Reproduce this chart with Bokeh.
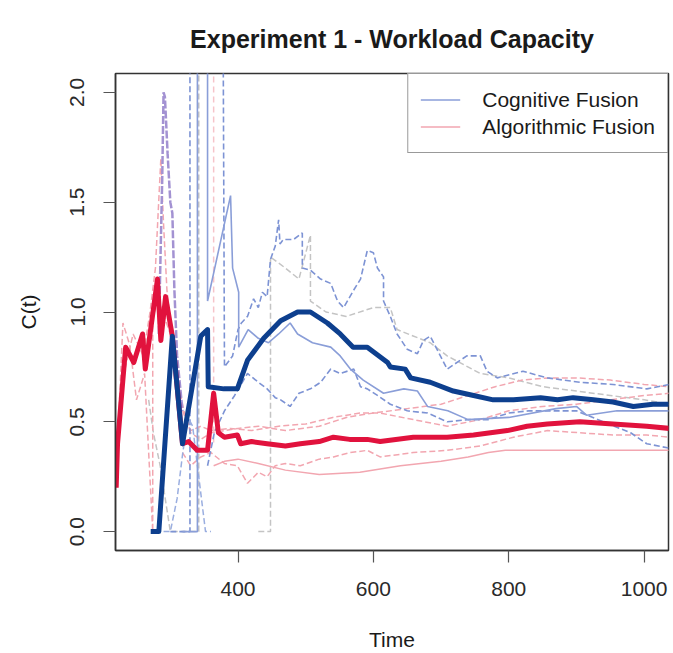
from bokeh.plotting import figure
from bokeh.models import Legend, LegendItem, FixedTicker, Range1d, PrintfTickFormatter
from bokeh.embed import file_html
from bokeh.resources import INLINE

# ---------------- data ----------------
x_ticks = [400, 600, 800, 1000]
y_ticks = [0.0, 0.5, 1.0, 1.5, 2.0]

# group means
cog_mean_t = [271, 283, 303, 318, 345, 355, 356, 379, 399, 414, 438, 463, 488, 507, 532, 551,
              570, 591, 621, 625, 647, 655, 684, 718, 748, 777, 807, 847, 872, 895, 925, 954,
              984, 1013, 1037]
cog_mean_c = [0.0, 0.0, 0.89, 0.40, 0.89, 0.92, 0.66, 0.65, 0.65, 0.78, 0.88, 0.96, 1.00, 1.00,
              0.95, 0.90, 0.84, 0.84, 0.77, 0.75, 0.74, 0.70, 0.68, 0.64, 0.62, 0.60, 0.60, 0.61,
              0.60, 0.61, 0.60, 0.59, 0.57, 0.58, 0.58]

alg_mean_t = [220, 222, 234, 246, 259, 263, 281, 286, 293, 303, 318, 327, 340, 355, 364, 371,
              380, 399, 404, 420, 443, 470, 492, 520, 541, 565, 591, 610, 659, 709, 748, 773,
              798, 827, 857, 905, 954, 1004, 1037]
alg_mean_c = [0.20, 0.40, 0.84, 0.77, 0.90, 0.74, 1.15, 0.87, 1.07, 0.89, 0.40, 0.41, 0.37, 0.37,
              0.63, 0.45, 0.43, 0.44, 0.40, 0.41, 0.40, 0.39, 0.40, 0.41, 0.43, 0.42, 0.42, 0.41,
              0.43, 0.43, 0.44, 0.45, 0.46, 0.48, 0.49, 0.50, 0.49, 0.48, 0.47]

# individual Cognitive Fusion curves
cog_1_t = [318, 340, 340, 355, 355, 389, 392, 401, 401, 415, 430, 445, 460, 477, 488, 510, 537,
           551, 566, 585, 615, 645, 665, 680, 710, 740, 800, 870, 900, 915, 960, 1037]
cog_1_c = [0.0, 0.0, 2.3, 2.3, 1.05, 1.53, 1.20, 1.09, 0.84, 0.92, 0.88, 0.86, 0.90, 0.95, 0.90,
           0.86, 0.84, 0.80, 0.74, 0.69, 0.63, 0.65, 0.64, 0.57, 0.55, 0.51, 0.52, 0.56, 0.57,
           0.53, 0.55, 0.55]

cog_2_t = [300, 329, 329, 378, 380, 392, 400, 405, 414, 423, 430, 436, 443, 448, 455, 460, 462,
           467, 482, 495, 495, 507, 522, 537, 547, 556, 571, 581, 591, 600, 606, 615, 615, 625,
           635, 650, 665, 674, 684, 709, 738, 758, 768, 783, 821, 857, 905, 954, 1004, 1037]
cog_2_c = [0.0, 0.0, 2.3, 2.3, 0.75, 0.80, 0.92, 0.95, 0.98, 1.06, 1.02, 1.09, 1.07, 1.24, 1.30,
           1.42, 1.31, 1.33, 1.33, 1.36, 1.20, 1.19, 1.15, 1.13, 1.05, 1.02, 1.10, 1.15, 1.28,
           1.27, 1.20, 1.16, 1.05, 0.98, 0.90, 0.83, 0.81, 0.87, 0.89, 0.74, 0.80, 0.80, 0.73,
           0.70, 0.73, 0.70, 0.68, 0.67, 0.65, 0.67]

cog_3_t = [355, 365, 380, 395, 414, 430, 443, 455, 463, 477, 490, 507, 522, 537, 551, 571, 581,
           591, 606, 625, 650, 680, 709, 740, 770, 800, 830, 860, 900, 940, 980, 1004, 1037]
cog_3_c = [0.30, 0.45, 0.55, 0.62, 0.72, 0.68, 0.65, 0.61, 0.60, 0.57, 0.63, 0.65, 0.68, 0.74,
           0.72, 0.74, 0.66, 0.65, 0.62, 0.58, 0.55, 0.54, 0.50, 0.51, 0.51, 0.54, 0.55, 0.55,
           0.55, 0.50, 0.45, 0.40, 0.38]

cog_4_t = [290, 300, 310, 318, 326, 333, 340, 352, 360]
cog_4_c = [0.0, 0.0, 0.15, 0.35, 0.52, 0.48, 0.30, 0.0, 0.0]

purple_t = [283, 288, 290, 292, 296, 300, 303, 306, 310, 318]
purple_c = [0.90, 1.60, 2.00, 1.98, 1.72, 1.50, 1.45, 1.10, 0.80, 0.55]

# individual Algorithmic Fusion curves
alg_1_t = [230, 245, 260, 270, 278, 286, 290, 295, 300, 310, 320, 330, 345, 360, 380, 400, 430,
           470, 520, 560, 600, 650, 700, 740, 780, 820, 860, 900, 950, 1000, 1037]
alg_1_c = [0.70, 0.90, 0.80, 1.00, 1.20, 1.70, 1.40, 1.10, 0.95, 0.70, 0.55, 0.45, 0.42, 0.45,
           0.46, 0.47, 0.48, 0.46, 0.48, 0.52, 0.54, 0.56, 0.58, 0.62, 0.66, 0.69, 0.70, 0.70,
           0.69, 0.67, 0.66]

alg_2_t = [222, 230, 240, 250, 262, 274, 274, 283, 300, 318, 330, 345, 360, 389, 420, 460, 500,
           540, 580, 610, 659, 709, 758, 800, 850, 900, 950, 1000, 1037]
alg_2_c = [0.40, 0.95, 0.85, 0.60, 0.72, 0.0, 0.98, 1.05, 0.90, 0.55, 0.46, 0.48, 0.46, 0.47,
           0.46, 0.48, 0.49, 0.52, 0.54, 0.54, 0.51, 0.48, 0.51, 0.55, 0.57, 0.58, 0.60, 0.62,
           0.63]

alg_3_t = [318, 330, 345, 360, 380, 399, 414, 430, 443, 455, 470, 492, 520, 541, 566, 591, 610,
           659, 709, 758, 807, 857, 905, 954, 1004, 1037]
alg_3_c = [0.36, 0.30, 0.34, 0.36, 0.31, 0.30, 0.22, 0.27, 0.25, 0.30, 0.31, 0.30, 0.33, 0.34,
           0.36, 0.37, 0.34, 0.36, 0.37, 0.39, 0.43, 0.46, 0.45, 0.44, 0.44, 0.43]

alg_4_t = [364, 380, 400, 430, 470, 520, 580, 640, 700, 740, 770, 795, 1037]
alg_4_c = [0.30, 0.32, 0.33, 0.31, 0.28, 0.26, 0.27, 0.30, 0.32, 0.34, 0.36, 0.37, 0.37]

alg_5_t = [364, 364]
alg_5_c = [2.3, 0.40]

# grey reference curves
grey_1_t = [430, 448, 448, 470, 490, 507, 507, 530, 560, 600, 625, 635, 684, 709, 758, 800, 850,
            900, 950, 1000, 1037]
grey_1_c = [0.0, 0.0, 1.25, 1.20, 1.15, 1.35, 1.05, 1.00, 0.98, 1.02, 1.02, 0.92, 0.86, 0.80,
            0.72, 0.70, 0.66, 0.64, 0.62, 0.60, 0.58]
grey_2_t = [268, 275, 285, 300, 318, 342, 342]
grey_2_c = [0.60, 0.45, 0.30, 0.0, 0.0, 0.0, 2.3]

title_text = "Experiment 1 - Workload Capacity"

# ---------------- figure ----------------
FONT = "Liberation Sans"
p = figure(width=673, height=653, output_backend="svg", toolbar_location=None,
           x_range=Range1d(219, 1036), y_range=Range1d(-0.086, 2.086),
           min_border_left=115, min_border_right=5, min_border_top=73, min_border_bottom=102)

p.xgrid.visible = False
p.ygrid.visible = False
p.outline_line_color = "#333333"
p.outline_line_width = 1.5
p.background_fill_color = "white"
p.border_fill_color = "white"

light_blue = "#8a9ed8"
pink = "#f2a6b0"
grey = "#c4c4c4"

r_grey2 = p.line(grey_2_t, grey_2_c, line_color=grey, line_width=1.5, line_dash="6 3")
r_grey1 = p.line(grey_1_t, grey_1_c, line_color=grey, line_width=1.5, line_dash="6 3")
r_alg1 = p.line(alg_1_t, alg_1_c, line_color=pink, line_width=1.5, line_dash="6 3")
r_alg2 = p.line(alg_2_t, alg_2_c, line_color=pink, line_width=1.5, line_dash="6 3")
r_alg3 = p.line(alg_3_t, alg_3_c, line_color=pink, line_width=1.5, line_dash="6 3")
r_alg5 = p.line(alg_5_t, alg_5_c, line_color="#f6c4ca", line_width=1.5, line_dash="6 4")
r_alg4 = p.line(alg_4_t, alg_4_c, line_color=pink, line_width=1.5)
r_cog2 = p.line(cog_2_t, cog_2_c, line_color="#7d93d4", line_width=1.6, line_dash="6 3")
r_cog3 = p.line(cog_3_t, cog_3_c, line_color="#7d93d4", line_width=1.6, line_dash="6 3")
r_cog4 = p.line(cog_4_t, cog_4_c, line_color="#9aaee0", line_width=1.5, line_dash="6 3")
r_cog1 = p.line(cog_1_t, cog_1_c, line_color=light_blue, line_width=1.6)
r_purple = p.line(purple_t, purple_c, line_color="#a392d2", line_width=2.5, line_dash="8 2")

r_alg_mean = p.line(alg_mean_t, alg_mean_c, line_color="#e1123d", line_width=5, line_join="round")
r_cog_mean = p.line(cog_mean_t, cog_mean_c, line_color="#0d3f8e", line_width=5, line_join="round")

# axes
for ax in (p.xaxis[0], p.yaxis[0]):
    ax.axis_line_color = "#333333"
    ax.axis_line_width = 1.5
    ax.major_tick_line_color = "#555555"
    ax.major_tick_line_width = 1.2
    ax.major_tick_out = 12
    ax.major_tick_in = 0
    ax.minor_tick_line_color = None
    ax.major_label_text_font = FONT
    ax.major_label_text_font_size = "21px"
    ax.major_label_text_color = "#2a2a2a"
    ax.axis_label_text_font = FONT
    ax.axis_label_text_font_size = "21px"
    ax.axis_label_text_font_style = "normal"
    ax.axis_label_text_color = "#1a1a1a"

p.xaxis.ticker = FixedTicker(ticks=x_ticks)
p.yaxis.ticker = FixedTicker(ticks=y_ticks)
p.yaxis.formatter = PrintfTickFormatter(format="%.1f")
p.yaxis.major_label_orientation = "vertical"
p.xaxis.major_label_standoff = 19
p.yaxis.major_label_standoff = 19
p.xaxis.axis_label = "Time"
p.yaxis.axis_label = "C(t)"
p.xaxis.axis_label_standoff = 29
p.yaxis.axis_label_standoff = 28

# title
p.title.text = title_text
p.title.align = "center"
p.title.text_font = FONT
p.title.text_font_size = "25px"
p.title.text_font_style = "bold"
p.title.text_color = "#1a1a1a"
p.title.standoff = 42

# legend
legend = Legend(items=[LegendItem(label="Cognitive Fusion", renderers=[r_cog1]),
                       LegendItem(label="Algorithmic Fusion", renderers=[r_alg4])],
                location="top_right", margin=0, padding=12, spacing=0,
                glyph_width=40, glyph_height=27, label_height=27, label_standoff=22,
                label_text_font=FONT, label_text_font_size="21px", label_text_color="#1a1a1a",
                border_line_color="#333333", border_line_width=1.5,
                background_fill_color="white", background_fill_alpha=1.0)
p.add_layout(legend)

open("out.html", "w").write(file_html(p, INLINE))
